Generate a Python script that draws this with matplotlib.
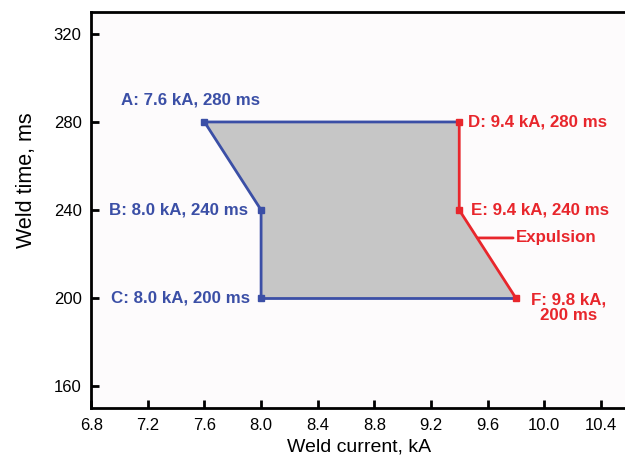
import matplotlib.pyplot as plt

# weld lobe corner points
names = ["A", "B", "C", "D", "E", "F"]
current = [7.6, 8.0, 8.0, 9.4, 9.4, 9.8]   # kA
weld_time = [280, 240, 200, 280, 240, 200]  # ms

x_ticks = [6.8, 7.2, 7.6, 8.0, 8.4, 8.8, 9.2, 9.6, 10.0, 10.4]
y_ticks = [160, 200, 240, 280, 320]

blue = "#3b4fa6"
red = "#e8262c"

plt.rcParams["font.family"] = ["Liberation Sans", "DejaVu Sans"]

fig = plt.figure(figsize=(6.25, 4.58), dpi=100)
ax = fig.add_axes([0.146, 0.109, 0.856, 0.865])
ax.set_facecolor("#fdfbfc")

pt = dict(zip(names, zip(current, weld_time)))
order = ["A", "D", "E", "F", "C", "B"]
ax.fill([pt[n][0] for n in order], [pt[n][1] for n in order],
        color="#c6c6c6", zorder=1)

# blue edges: C-B-A-D and C-F
ax.plot([pt["C"][0], pt["B"][0], pt["A"][0], pt["D"][0]],
        [pt["C"][1], pt["B"][1], pt["A"][1], pt["D"][1]],
        color=blue, lw=2, zorder=2)
ax.plot([pt["C"][0], pt["F"][0]], [pt["C"][1], pt["F"][1]],
        color=blue, lw=2, zorder=2)
# red edge: expulsion limit D-E-F
ax.plot([pt["D"][0], pt["E"][0], pt["F"][0]],
        [pt["D"][1], pt["E"][1], pt["F"][1]],
        color=red, lw=2, zorder=3)

for n in names:
    c = blue if n in "ABC" else red
    ax.plot(pt[n][0], pt[n][1], "s", color=c, ms=5, zorder=4)

def lab(n):
    return f"{n}: {pt[n][0]:.1f} kA, {pt[n][1]} ms"

fs = 12.2
ax.text(7.5, 290, lab("A"), color=blue, fontsize=fs, fontweight="bold",
        ha="center", va="center")
ax.text(7.91, 240, lab("B"), color=blue, fontsize=fs, fontweight="bold",
        ha="right", va="center")
ax.text(7.92, 200, lab("C"), color=blue, fontsize=fs, fontweight="bold",
        ha="right", va="center")
ax.text(9.46, 280, lab("D"), color=red, fontsize=fs, fontweight="bold",
        ha="left", va="center")
ax.text(9.48, 240, lab("E"), color=red, fontsize=fs, fontweight="bold",
        ha="left", va="center")
ax.text(10.17, 195.5, f"F: {pt['F'][0]:.1f} kA,\n{pt['F'][1]} ms", color=red,
        fontsize=fs, fontweight="bold", ha="center", va="center",
        multialignment="center", linespacing=1.0)
ax.annotate("Expulsion", xy=(9.53, 227.3), xytext=(9.80, 227.3),
            color=red, fontsize=fs, fontweight="bold", va="center",
            arrowprops=dict(arrowstyle="-", color=red, lw=2,
                            shrinkA=0, shrinkB=0))

ax.set_xlim(6.8, 10.58)
ax.set_ylim(150, 330)
ax.set_xticks(x_ticks)
ax.set_xticklabels([f"{v:.1f}" for v in x_ticks])
ax.set_yticks(y_ticks)
ax.tick_params(direction="in", length=6, width=2, labelsize=12,
               top=False, right=False, pad=7)
for s in ["left", "bottom", "top"]:
    ax.spines[s].set_linewidth(2)
ax.spines["right"].set_visible(False)

ax.set_xlabel("Weld current, kA", fontsize=14, labelpad=4)
ax.set_ylabel("Weld time, ms", fontsize=15.5)
ax.yaxis.set_label_coords(-0.102, 0.576)

fig.savefig("out.png", dpi=100)
